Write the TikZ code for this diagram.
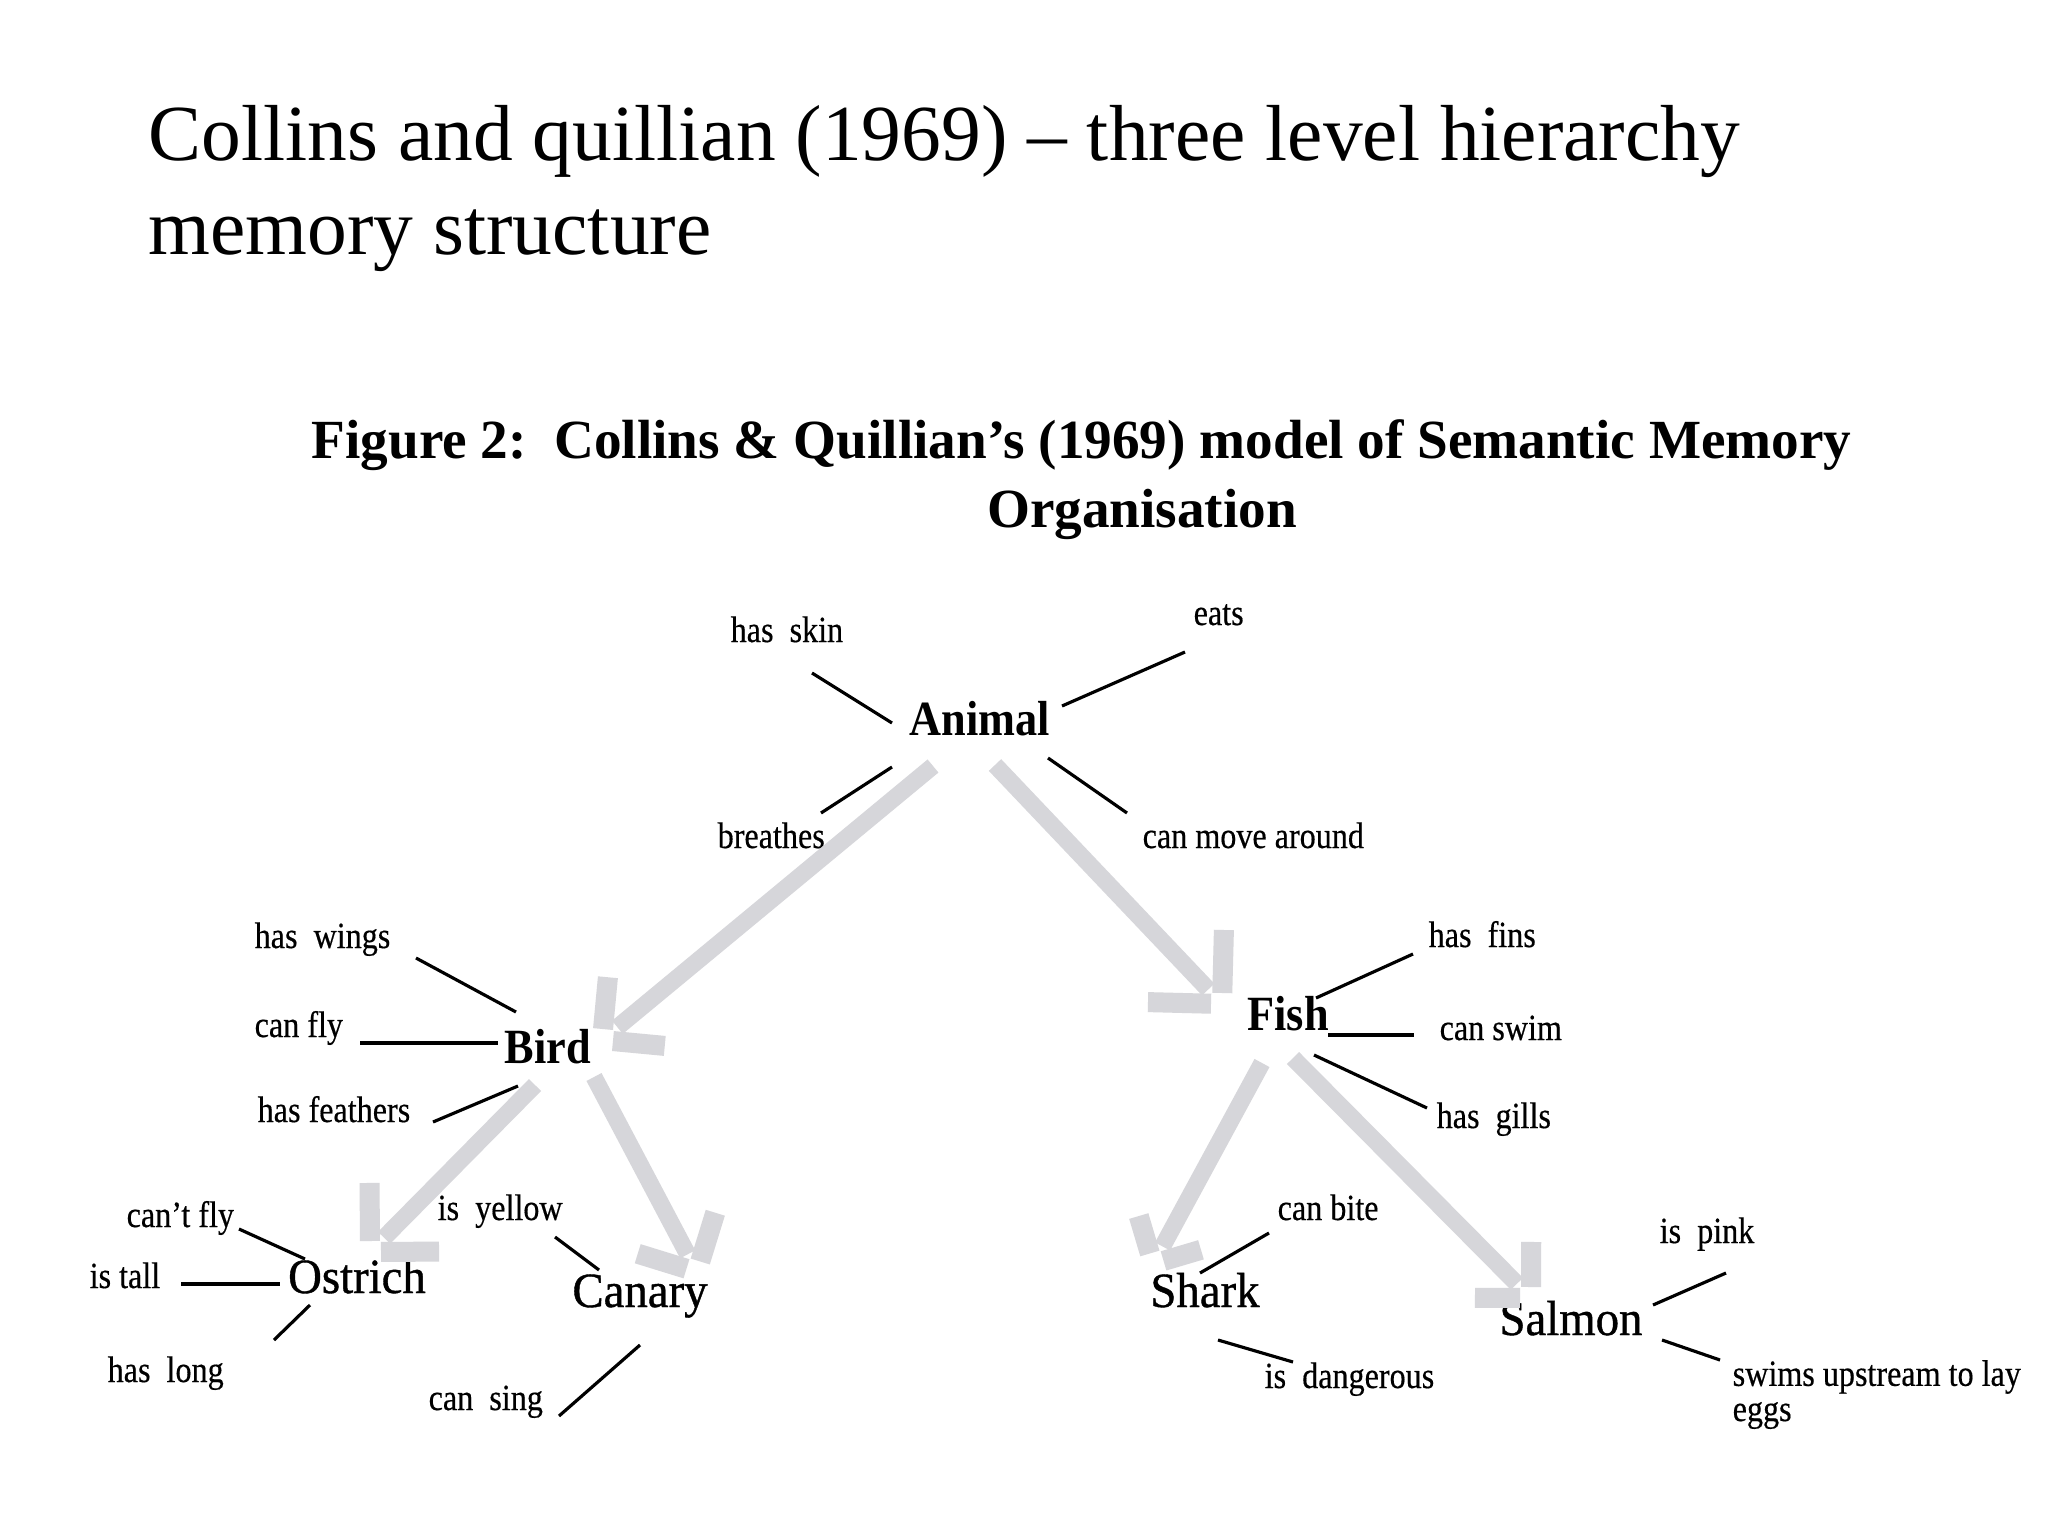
\documentclass[tikz,border=0pt]{standalone}
\usepackage{fontspec}
\setmainfont{Liberation Serif}
\newfontfamily\labfont[FakeStretch=0.87, FakeBold=0.4]{Liberation Serif}
\newfontfamily\conceptfont[FakeStretch=0.9]{Liberation Serif}
\newfontfamily\leaffont[FakeStretch=0.95, FakeBold=0.8]{Liberation Serif}
\usetikzlibrary{calc}
\definecolor{arrgray}{RGB}{214,214,218}
\tikzset{
 titletext/.style={font=\fontsize{22.6}{27}\selectfont, anchor=base west, inner sep=0pt},
 captext/.style={font=\bfseries\fontsize{15.7}{18}\selectfont, inner sep=0pt},
 lab/.style={font=\labfont\fontsize{10.5}{10}\selectfont, anchor=base west, inner sep=0pt, align=left},
 concept/.style={font=\conceptfont\bfseries\fontsize{14}{16}\selectfont, anchor=base, inner sep=0pt},
 leaf/.style={font=\leaffont\fontsize{14}{16}\selectfont, anchor=base, inner sep=0pt},
 link/.style={line width=0.9pt},
 thicklink/.style={line width=1.3pt},
 shaft/.style={arrgray, line width=1.7mm},
 barb/.style={arrgray, line width=2mm},
}
% #1 start, #2 tip, #3 barb end distance from tip
\newcommand\isaarrow[3]{%
  \draw[shaft] (#1) -- ($(#2)!2mm!(#1)$);
  \draw[barb] ($(#2)!1.1mm!45:(#1)$) -- ($(#2)!#3!45:(#1)$);
  \draw[barb] ($(#2)!1.1mm!-45:(#1)$) -- ($(#2)!#3!-45:(#1)$);
}
\begin{document}
\begin{tikzpicture}[x=0.01cm, y=-0.01cm]
\useasboundingbox[fill=white] (0,0) rectangle (2048,1536);

% slide title
\node[titletext] (t1) at (148,160) {Collins and quillian (1969) – three level hierarchy};
\node[titletext] (t2) at (148,254) {memory structure};

% figure caption
\node[captext, anchor=base west] (c1) at (311,458) {Figure 2:\ \ Collins \& Quillian’s (1969) model of Semantic Memory};
\node[captext, anchor=base] (c2) at (1142,527) {Organisation};

% concept nodes
\node[concept] (animal) at (980,735) {Animal};
\node[concept] (bird) at (548,1063) {Bird};
\node[concept] (fish) at (1288,1030) {Fish};
\node[leaf] (ostrich) at (357,1293) {Ostrich};
\node[leaf] (canary) at (640,1307) {Canary};
\node[leaf] (shark) at (1205,1307) {Shark};
\node[leaf] (salmon) at (1571,1335) {Salmon};

% property labels
\node[lab] (skin) at (730,642) {has\ \ skin};
\node[lab] (eats) at (1193,625) {eats};
\node[lab] (breathes) at (717,848) {breathes};
\node[lab] (move) at (1142,848) {can move around};
\node[lab] (wings) at (254,948) {has\ \ wings};
\node[lab] (fly) at (254,1037) {can fly};
\node[lab] (feathers) at (257,1122) {has feathers};
\node[lab] (fins) at (1428,947) {has\ \ fins};
\node[lab] (swim) at (1439,1040) {can swim};
\node[lab] (gills) at (1436,1128) {has\ \ gills};
\node[lab] (cantfly) at (126,1227) {can’t fly};
\node[lab] (tall) at (89,1288) {is tall};
\node[lab] (long) at (107,1382) {has\ \ long};
\node[lab] (yellow) at (437,1220) {is\ \ yellow};
\node[lab] (sing) at (428,1410) {can\ \ sing};
\node[lab] (bite) at (1277,1220) {can bite};
\node[lab] (danger) at (1264,1388) {is\ \ dangerous};
\node[lab] (pink) at (1659,1243) {is\ \ pink};
\node[lab] (swims) at (1732,1421) {swims upstream to lay\\eggs};

% property link end points
\coordinate (skinA) at (812,673);   \coordinate (skinB) at (892,723);
\coordinate (eatsA) at (1062,706);  \coordinate (eatsB) at (1185,652);
\coordinate (brA) at (821,813);     \coordinate (brB) at (892,767);
\coordinate (mvA) at (1048,758);    \coordinate (mvB) at (1127,813);
\coordinate (wgA) at (416,958);     \coordinate (wgB) at (516,1012);
\coordinate (flA) at (360,1043);    \coordinate (flB) at (498,1043);
\coordinate (ftA) at (433,1122);    \coordinate (ftB) at (518,1086);
\coordinate (fnA) at (1316,998);    \coordinate (fnB) at (1413,954);
\coordinate (swA) at (1328,1035);   \coordinate (swB) at (1414,1035);
\coordinate (glA) at (1314,1055);   \coordinate (glB) at (1427,1108);
\coordinate (cfA) at (239,1229);    \coordinate (cfB) at (305,1259);
\coordinate (tlA) at (181,1284);    \coordinate (tlB) at (280,1284);
\coordinate (lgA) at (274,1340);    \coordinate (lgB) at (310,1305);
\coordinate (ylA) at (555,1237);    \coordinate (ylB) at (599,1270);
\coordinate (sgA) at (559,1416);    \coordinate (sgB) at (640,1345);
\coordinate (btA) at (1200,1273);   \coordinate (btB) at (1269,1233);
\coordinate (dgA) at (1218,1340);   \coordinate (dgB) at (1293,1362);
\coordinate (pkA) at (1653,1305);   \coordinate (pkB) at (1726,1273);
\coordinate (upA) at (1662,1340);   \coordinate (upB) at (1720,1360);

\draw[link] (skinA) -- (skinB);
\draw[link] (eatsA) -- (eatsB);
\draw[link] (brA) -- (brB);
\draw[link] (mvA) -- (mvB);
\draw[link] (wgA) -- (wgB);
\draw[thicklink] (flA) -- (flB);
\draw[link] (ftA) -- (ftB);
\draw[link] (fnA) -- (fnB);
\draw[thicklink] (swA) -- (swB);
\draw[link] (glA) -- (glB);
\draw[link] (cfA) -- (cfB);
\draw[thicklink] (tlA) -- (tlB);
\draw[link] (lgA) -- (lgB);
\draw[link] (ylA) -- (ylB);
\draw[link] (sgA) -- (sgB);
\draw[link] (btA) -- (btB);
\draw[link] (dgA) -- (dgB);
\draw[link] (pkA) -- (pkB);
\draw[link] (upA) -- (upB);

% is-a arrows (gray)
\coordinate (aBs) at (933,766);   \coordinate (aBt) at (602,1040);
\coordinate (aFs) at (995,765);   \coordinate (aFt) at (1222,1004);
\coordinate (bOs) at (535,1085);  \coordinate (bOt) at (370,1252);
\coordinate (bCs) at (594,1077);  \coordinate (bCt) at (697,1272);
\coordinate (fSs) at (1262,1063); \coordinate (fSt) at (1153,1264);
\coordinate (fLs) at (1293,1058); \coordinate (fLt) at (1531,1298);
\isaarrow{aBs}{aBt}{6.3mm}
\isaarrow{aFs}{aFt}{7.4mm}
\isaarrow{bOs}{bOt}{6.9mm}
\isaarrow{bCs}{bCt}{6.2mm}
\isaarrow{fSs}{fSt}{5mm}
\isaarrow{fLs}{fLt}{5.6mm}
\end{tikzpicture}
\end{document}
